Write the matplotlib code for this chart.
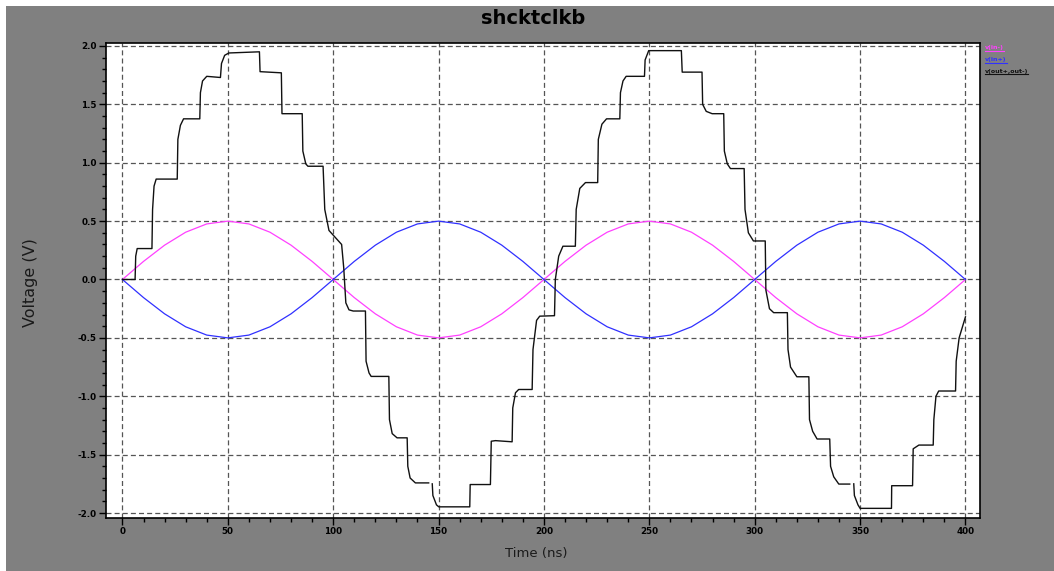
import numpy as np
import matplotlib.pyplot as plt
from matplotlib.lines import Line2D
from matplotlib.patches import Rectangle

nan = float("nan")

# input sines, read every 10 ns
t_in = list(range(0, 410, 10))
v_inp = [0.0, 0.155, 0.294, 0.405, 0.476, 0.5, 0.476, 0.405, 0.294, 0.155,
         0.0, -0.155, -0.294, -0.405, -0.476, -0.5, -0.476, -0.405, -0.294, -0.155,
         0.0, 0.155, 0.294, 0.405, 0.476, 0.5, 0.476, 0.405, 0.294, 0.155,
         0.0, -0.155, -0.294, -0.405, -0.476, -0.5, -0.476, -0.405, -0.294, -0.155, 0.0]
v_inn = [0.0, -0.155, -0.294, -0.405, -0.476, -0.5, -0.476, -0.405, -0.294, -0.155,
         0.0, 0.155, 0.294, 0.405, 0.476, 0.5, 0.476, 0.405, 0.294, 0.155,
         0.0, -0.155, -0.294, -0.405, -0.476, -0.5, -0.476, -0.405, -0.294, -0.155,
         0.0, 0.155, 0.294, 0.405, 0.476, 0.5, 0.476, 0.405, 0.294, 0.155, 0.0]

t_out = [0, 6, 6.3, 7, 14, 14.3, 15, 16, 26, 26.3, 27.5, 29, 36.7, 37, 38, 40,
         46.5, 47, 48.5, 50.5, 65, 65.3, 75.4, 75.7, 85.3, 85.6, 87, 88, 95.2,
         96, 98, 104, 105, 106, 107.5, 109.5, 115.3, 115.6, 117, 118, 126.4,
         126.7, 128, 130.3, 135.1, 135.4, 136.5, 139, 145.3, 146, 147, 147.3,
         149, 150.1, 164.8, 165, 174.6, 175, 177, 184.9, 185.2, 186.5, 188,
         194.4, 194.8, 196.5, 198, 205, 205.4, 207, 209, 214.9, 215.3, 217,
         219.7, 225.5, 225.8, 227.5, 229.7, 236, 236.3, 237.5, 239, 247.7, 248,
         249.7, 265.2, 265.6, 275, 275.3, 277, 279.8, 285.3, 285.6, 287, 288.5,
         295, 295.4, 297, 299.4, 305, 305.3, 307, 309, 315.5, 315.8, 317, 320,
         325.7, 326, 327.5, 329.6, 335.6, 336, 337.5, 339.9, 345.1, 346, 347,
         347.3, 349, 350, 364.9, 365, 374.9, 375.2, 377.9, 384.7, 385, 386,
         387.3, 395.3, 395.6, 397, 400]
v_out = [0.0, 0.0, 0.2, 0.265, 0.265, 0.6, 0.8, 0.86, 0.86, 1.2, 1.32, 1.376,
         1.376, 1.6, 1.7, 1.74, 1.73, 1.85, 1.92, 1.94, 1.95, 1.78, 1.77, 1.42,
         1.42, 1.1, 0.99, 0.97, 0.97, 0.6, 0.42, 0.3, 0.1, -0.2, -0.26, -0.27,
         -0.27, -0.7, -0.8, -0.83, -0.83, -1.2, -1.32, -1.356, -1.356, -1.6,
         -1.7, -1.742, -1.742, nan, -1.75, -1.85, -1.93, -1.947, -1.947, -1.756,
         -1.756, -1.385, -1.38, -1.39, -1.1, -0.97, -0.942, -0.942, -0.6,
         -0.35, -0.314, -0.31, 0.0, 0.2, 0.285, 0.285, 0.6, 0.78, 0.83, 0.83,
         1.2, 1.33, 1.376, 1.376, 1.6, 1.7, 1.74, 1.74, 1.88, 1.96, 1.96, 1.776,
         1.776, 1.5, 1.44, 1.42, 1.42, 1.1, 0.99, 0.95, 0.95, 0.6, 0.4, 0.33,
         0.33, -0.09, -0.25, -0.284, -0.284, -0.6, -0.75, -0.833, -0.833, -1.2,
         -1.3, -1.366, -1.366, -1.6, -1.69, -1.752, -1.752, nan, -1.75, -1.85,
         -1.93, -1.96, -1.96, -1.766, -1.766, -1.45, -1.418, -1.418, -1.2, -1.0,
         -0.955, -0.955, -0.7, -0.5, -0.32]

labels = ["v(in-)", "v(in+)", "v(out+,out-)"]
colors = ["#ff40ff", "#3030ff", "#111111"]

W, H = 1054, 571
fig = plt.figure(figsize=(W / 100, H / 100), dpi=100, facecolor="white")
# gray panel behind everything (thin white strip top/left like the screenshot)
fig.patches.append(Rectangle((6 / W, 0), 1, 1 - 6 / H, transform=fig.transFigure,
                             facecolor="#808080", edgecolor="none", zorder=-5))

ax = fig.add_axes([106 / W, 1 - 517.7 / H, (980 - 106) / W, (517.7 - 42.7) / H])
ax.set_facecolor("white")

ax.plot(t_in, v_inp, color=colors[0], lw=0.9)
ax.plot(t_in, v_inn, color=colors[1], lw=0.9)
ax.plot(t_out, v_out, color=colors[2], lw=1.0)

ax.set_xlim(-7.8, 406.9)
ax.set_ylim(-2.040, 2.028)
ax.set_xticks(np.arange(0, 401, 50))
ax.set_xticks(np.arange(0, 401, 10), minor=True)
ax.set_yticks(np.arange(-2.0, 2.01, 0.5))
ax.set_yticks(np.arange(-2.0, 2.01, 0.1), minor=True)
ax.set_yticklabels(["%.1f" % v for v in np.arange(-2.0, 2.01, 0.5)])
ax.tick_params(which="major", direction="out", length=5, width=1, labelsize=6.3, pad=1.5)
ax.tick_params(which="minor", direction="out", length=3, width=1)
for lab in ax.get_xticklabels() + ax.get_yticklabels():
    lab.set_fontweight("bold")
ax.grid(True, which="major", color="#555555", lw=0.9, linestyle=(0, (4, 2.5)))
for s in ax.spines.values():
    s.set_linewidth(1.2)

fig.text(533.5 / W, 1 - 18 / H, "shcktclkb", ha="center", va="center",
         fontsize=14, fontweight="bold")
fig.text(30 / W, 1 - 283 / H, "Voltage (V)", ha="center", va="center",
         rotation=90, fontsize=11.5, color="#1a1a1a")
fig.text(536 / W, 1 - 553 / H, "Time (ns)", ha="center", va="center",
         fontsize=9.5, color="#1a1a1a")

# little legend outside the plot, text underlined in the trace colour
for i, (lab, c) in enumerate(zip(labels, colors)):
    y = 47 + 12 * i
    txt = fig.text(985 / W, 1 - y / H, lab, color=c, fontsize=4.5,
                   fontweight="bold", ha="left", va="center")
    fig.canvas.draw()
    bb = txt.get_window_extent()
    fig.add_artist(Line2D([bb.x0 / W, bb.x1 / W], [bb.y0 / H - 1 / H] * 2,
                          color=c, lw=0.8, transform=fig.transFigure))

fig.savefig("out.png", dpi=100, facecolor=fig.get_facecolor())
